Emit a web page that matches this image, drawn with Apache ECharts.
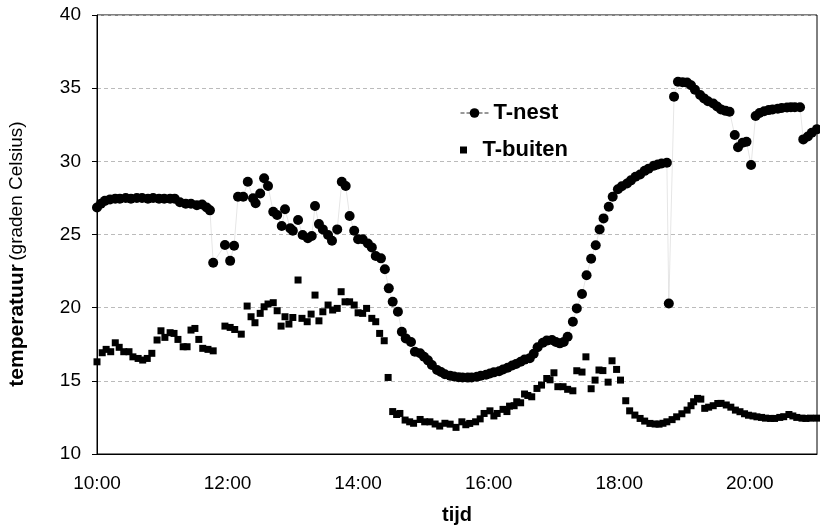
<!DOCTYPE html>
<html><head><meta charset="utf-8">
<script src="https://cdn.jsdelivr.net/npm/echarts@6/dist/echarts.min.js"></script>
<style>html,body{margin:0;padding:0;background:#fff}#c{width:820px;height:526px}</style>
</head><body><div id="c"></div>
<script>
// time in decimal hours
const nestTime = [10.00,10.06,10.12,10.20,10.28,10.35,10.44,10.52,10.61,10.69,10.78,10.86,10.95,11.03,11.12,11.19,11.27,11.36,11.44,11.53,11.61,11.68,11.73,11.78,11.96,12.04,12.10,12.16,12.24,12.31,12.39,12.43,12.50,12.56,12.62,12.70,12.76,12.83,12.88,12.96,13.00,13.08,13.15,13.23,13.29,13.34,13.40,13.46,13.54,13.60,13.68,13.75,13.81,13.87,13.94,14.00,14.07,14.15,14.21,14.27,14.35,14.41,14.47,14.53,14.61,14.67,14.73,14.81,14.87,14.95,15.01,15.07,15.13,15.21,15.27,15.33,15.41,15.47,15.54,15.60,15.68,15.74,15.82,15.88,15.96,16.02,16.08,16.16,16.22,16.29,16.36,16.42,16.49,16.55,16.63,16.69,16.75,16.83,16.89,16.97,17.03,17.09,17.15,17.21,17.29,17.35,17.43,17.50,17.57,17.64,17.70,17.76,17.84,17.90,17.98,18.04,18.12,18.18,18.25,18.32,18.39,18.45,18.53,18.59,18.65,18.73,18.76,18.84,18.90,18.97,19.04,19.10,19.16,19.24,19.30,19.36,19.44,19.50,19.56,19.63,19.69,19.77,19.82,19.89,19.95,20.02,20.09,20.15,20.22,20.29,20.35,20.43,20.49,20.57,20.63,20.69,20.77,20.82,20.89,20.95,21.03];
const nestTemp = [26.85,27.1,27.3,27.4,27.45,27.45,27.5,27.45,27.5,27.5,27.45,27.5,27.45,27.45,27.45,27.45,27.2,27.1,27.1,27.0,27.05,26.85,26.65,23.07,24.28,23.2,24.23,27.58,27.58,28.6,27.47,27.13,27.8,28.84,28.31,26.56,26.33,25.58,26.72,25.42,25.26,25.99,24.96,24.74,24.9,26.95,25.71,25.35,24.96,24.57,25.35,28.6,28.31,26.26,25.26,24.67,24.67,24.39,24.12,23.53,23.37,22.62,21.32,20.4,19.72,18.35,17.9,17.65,16.99,16.88,16.64,16.4,16.08,15.74,15.6,15.45,15.35,15.3,15.25,15.23,15.22,15.23,15.28,15.35,15.42,15.5,15.58,15.65,15.78,15.9,16.05,16.15,16.3,16.45,16.55,16.85,17.3,17.6,17.75,17.79,17.65,17.56,17.65,18.01,19.04,19.95,20.93,22.21,23.34,24.26,25.35,26.1,26.9,27.58,28.09,28.3,28.49,28.7,28.95,29.1,29.35,29.5,29.7,29.78,29.85,29.9,20.29,34.42,35.44,35.4,35.38,35.2,34.9,34.53,34.3,34.1,33.95,33.75,33.55,33.45,33.39,31.8,30.96,31.27,31.34,29.75,33.1,33.3,33.42,33.5,33.55,33.6,33.65,33.68,33.7,33.7,33.7,31.5,31.7,31.95,32.2];

const buitenTime = [10.00,10.08,10.14,10.21,10.28,10.34,10.41,10.49,10.55,10.63,10.70,10.77,10.84,10.92,10.98,11.04,11.12,11.18,11.24,11.32,11.38,11.44,11.50,11.56,11.62,11.70,11.78,11.96,12.04,12.11,12.21,12.30,12.36,12.42,12.50,12.56,12.62,12.70,12.76,12.82,12.88,12.94,13.00,13.08,13.14,13.22,13.28,13.34,13.40,13.46,13.54,13.61,13.68,13.74,13.80,13.87,13.94,14.00,14.07,14.13,14.21,14.27,14.33,14.40,14.46,14.53,14.59,14.64,14.72,14.79,14.85,14.95,15.02,15.10,15.18,15.25,15.33,15.41,15.50,15.59,15.65,15.71,15.80,15.87,15.93,16.02,16.08,16.13,16.22,16.28,16.32,16.39,16.43,16.49,16.55,16.60,16.66,16.74,16.81,16.89,16.94,17.00,17.06,17.14,17.21,17.29,17.35,17.43,17.49,17.57,17.63,17.69,17.75,17.83,17.89,17.96,18.02,18.10,18.16,18.24,18.32,18.39,18.47,18.55,18.61,18.67,18.73,18.81,18.88,18.96,19.04,19.10,19.14,19.20,19.25,19.31,19.37,19.44,19.51,19.56,19.64,19.71,19.78,19.85,19.92,19.98,20.05,20.11,20.18,20.24,20.32,20.38,20.46,20.52,20.60,20.66,20.72,20.80,20.86,20.93,21.03];
const buitenTemp = [16.3,16.92,17.15,16.99,17.6,17.29,16.99,16.99,16.64,16.53,16.42,16.53,16.88,17.79,18.42,17.97,18.29,18.24,17.83,17.33,17.33,18.47,18.58,17.83,17.22,17.15,17.05,18.74,18.65,18.51,18.19,20.11,19.38,18.97,19.61,20.06,20.25,20.34,19.79,18.74,19.38,18.88,19.33,21.89,19.27,19.04,19.56,20.86,19.1,19.72,20.18,19.84,19.95,21.09,20.4,20.4,20.18,19.65,19.61,19.95,19.27,19.04,18.24,17.74,15.23,12.9,12.7,12.77,12.32,12.2,12.1,12.36,12.2,12.2,12.05,11.91,12.1,12.04,11.82,12.2,12.0,12.09,12.2,12.4,12.77,12.95,12.6,12.77,13.05,12.9,13.27,13.3,13.57,13.5,14.1,14.0,13.91,14.48,14.71,15.16,15.07,15.55,14.6,14.6,14.42,14.32,15.69,15.6,16.64,14.46,15.05,15.74,15.7,14.91,16.37,15.78,15.05,13.64,12.95,12.66,12.43,12.25,12.09,12.05,12.04,12.1,12.2,12.35,12.54,12.75,13.0,13.3,13.57,13.8,13.75,13.12,13.2,13.3,13.45,13.46,13.35,13.2,13.0,12.89,12.75,12.65,12.6,12.54,12.5,12.45,12.43,12.43,12.5,12.55,12.7,12.6,12.5,12.45,12.43,12.45,12.45];

const seriesNames = ['T-nest', 'T-buiten'];
const xAxisTitle = 'tijd';
const yAxisTitleBold = 'temperatuur';
const yAxisTitleNormal = '(graden Celsius)';

const pair = (t, v) => t.map((x, i) => [x, v[i]]);
const FONT = '"Liberation Sans", Arial, sans-serif';

const chart = echarts.init(document.getElementById('c'), null, {renderer: 'canvas'});
chart.setOption({
  animation: false,
  backgroundColor: '#fff',
  textStyle: {fontFamily: FONT, color: '#000'},
  grid: {left: 97, right: 3, top: 15, bottom: 72, containLabel: false, outerBoundsMode: 'none',
    show: true, borderColor: '#000', borderWidth: 1, backgroundColor: 'transparent'},
  legend: [
    {data: [{name: seriesNames[0], lineStyle: {color: '#333', width: 1, type: [4, 2]}}], left: 455, top: 97, itemWidth: 28, itemHeight: 12, itemGap: 0,
     textStyle: {fontFamily: FONT, fontSize: 22, fontWeight: 'bold', color: '#000'}},
    {data: [{name: seriesNames[1], icon: 'path://M0,0h10v10h-10z', itemStyle: {opacity: 1}}], left: 455, top: 134, itemWidth: 28, itemHeight: 7, itemGap: 0,
     textStyle: {fontFamily: FONT, fontSize: 22, fontWeight: 'bold', color: '#000'}}
  ],
  xAxis: {
    type: 'value', min: 10, max: 21.03, interval: 2,
    name: xAxisTitle, nameLocation: 'middle', nameGap: 51,
    nameTextStyle: {fontFamily: FONT, fontSize: 20, fontWeight: 'bold', color: '#000'},
    axisLine: {show: true, lineStyle: {color: '#000', width: 1}},
    axisTick: {show: false},
    splitLine: {show: false},
    axisLabel: {fontFamily: FONT, fontSize: 19, color: '#000', margin: 20, showMaxLabel: false,
      formatter: v => Math.round(v) + ':00'}
  },
  yAxis: {
    type: 'value', min: 10, max: 40, interval: 5,
    axisLine: {show: true, lineStyle: {color: '#000', width: 1}},
    axisTick: {show: true, length: 5, lineStyle: {color: '#000'}},
    splitLine: {show: true, lineStyle: {color: '#bbb', width: 1, type: [4, 3]}},
    axisLabel: {fontFamily: FONT, fontSize: 19, color: '#000', margin: 16}
  },
  graphic: [{
    type: 'text', x: 17, y: 254, rotation: Math.PI / 2,
    style: {
      text: '{b|' + yAxisTitleBold + '} {n|' + yAxisTitleNormal + '}',
      align: 'center', verticalAlign: 'middle',
      rich: {
        b: {fontFamily: FONT, fontSize: 21, fontWeight: 'bold', fill: '#000'},
        n: {fontFamily: FONT, fontSize: 19, fill: '#000'}
      }
    }
  }],
  series: [
    {
      name: seriesNames[0], type: 'line', data: pair(nestTime, nestTemp),
      symbol: 'circle', symbolSize: 10, showSymbol: true, clip: true, z: 3,
      itemStyle: {color: '#000'},
      lineStyle: {color: '#ccc', width: 0.5}
    },
    {
      name: seriesNames[1], type: 'scatter', data: pair(buitenTime, buitenTemp),
      symbol: 'rect', symbolSize: 7, clip: true, z: 2,
      itemStyle: {color: '#000', opacity: 1}
    }
  ]
});
</script></body></html>
